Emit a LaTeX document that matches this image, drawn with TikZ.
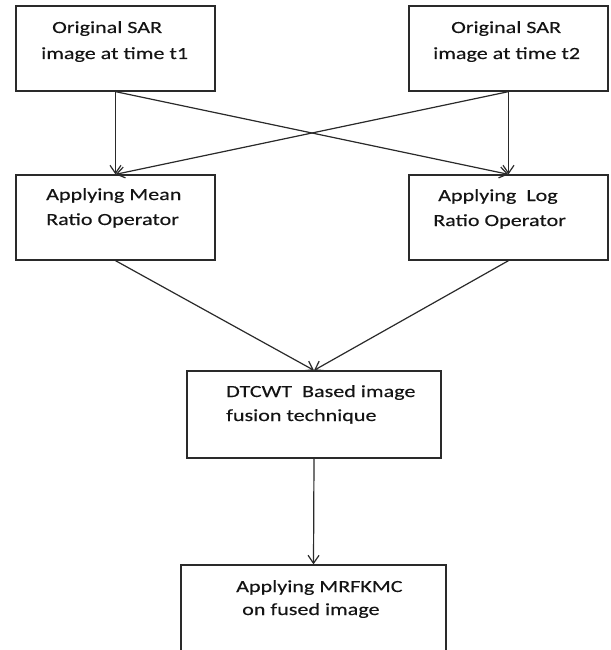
\documentclass[tikz,border=0pt]{standalone}
\usepackage{fontspec}
\setmainfont{Carlito}[FakeStretch=1.3,FakeBold=0.25]
\usetikzlibrary{arrows.meta}
\definecolor{linegray}{HTML}{2A2A2A}
\definecolor{txt}{HTML}{141414}
\tikzset{
  box/.style={draw=linegray, line width=1.3pt, rectangle, inner sep=0pt, fill=white},
  lbl/.style={inner sep=0pt, anchor=base west, text=txt, font=\fontsize{17}{20}\selectfont},
  flow/.style={draw=linegray, line width=1.2pt, -{Straight Barb[length=8pt,width=11pt,line width=1.2pt]}},
}
\begin{document}
\begin{tikzpicture}[x=1pt,y=-1pt]
\useasboundingbox (0,0) rectangle (610,650);
\clip (0,0) rectangle (610,650);
\fill[white] (0,0) rectangle (610,650);
% boxes
\node[box, minimum width=199pt, minimum height=85pt] (t1) at (115.5,48.5) {};
\node[box, minimum width=199pt, minimum height=85pt] (t2) at (508.5,48.5) {};
\node[box, minimum width=199pt, minimum height=85pt] (mr) at (115.5,217.5) {};
\node[box, minimum width=199pt, minimum height=85pt] (lr) at (508.5,217.5) {};
\node[box, minimum width=254pt, minimum height=87pt] (dt) at (314,414.5) {};
\node[box, minimum width=265pt, minimum height=130pt] (mk) at (313.5,630) {};
% texts
\node[lbl] (t1a) at (52,33) {Original SAR};
\node[lbl] (t1b) at (41,59) {image at time t1};
\node[lbl] (t2a) at (451,33) {Original SAR};
\node[lbl] (t2b) at (433,59) {image at time t2};
\node[lbl] (mra) at (46,200) {Applying Mean};
\node[lbl] (mrb) at (46,225) {Ratio Operator};
\node[lbl] (lra) at (438,201) {Applying\ \ Log};
\node[lbl] (lrb) at (433,226) {Ratio Operator};
\node[lbl] (dta) at (226,397) {DTCWT\ \ Based image};
\node[lbl] (dtb) at (226,421) {fusion technique};
\node[lbl] (mka) at (236,592) {Applying MRFKMC};
\node[lbl] (mkb) at (242,615) {on fused image};
% connectors
\draw[flow] (t1.south) -- (mr.north);
\draw[flow] (t2.south) -- (lr.north);
\draw[flow] (t1.south) -- (lr.north);
\draw[flow] (t2.south) -- (mr.north);
\draw[flow] (mr.south) -- (dt.north);
\draw[flow] (lr.south) -- (dt.north);
\draw[flow] (dt.south) -- (mk.north);
\end{tikzpicture}
\end{document}
